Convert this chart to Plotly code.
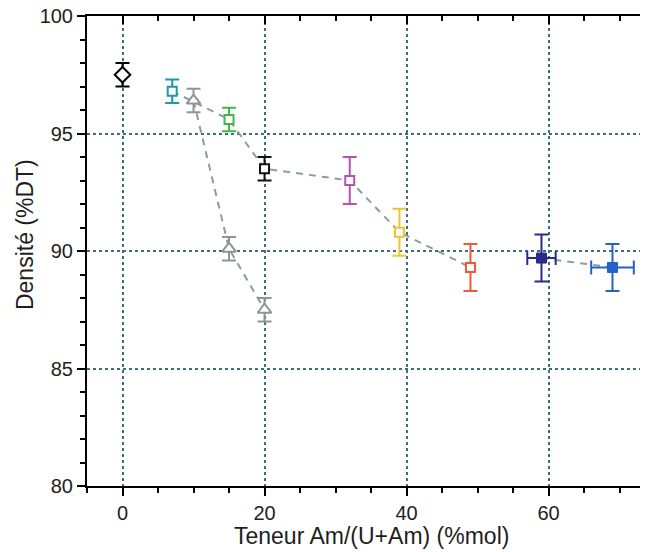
import plotly.graph_objects as go

# ---------------- data ----------------
ref_x = [0]
ref_y = [97.5]
ref_err = [0.5]

sq_x = [7, 15, 20, 32, 39, 49]
sq_y = [96.8, 95.6, 93.5, 93.0, 90.8, 89.3]
sq_err = [0.5, 0.5, 0.5, 1.0, 1.0, 1.0]
sq_colors = ["#1c99a6", "#3dba45", "#111111", "#b352b3", "#f1c232", "#f1573a"]

tri_x = [10, 15, 20]
tri_y = [96.4, 90.1, 87.5]
tri_err = [0.5, 0.5, 0.5]

fill_x = [59, 69]
fill_y = [89.7, 89.3]
fill_yerr = [1.0, 1.0]
fill_xerr = [2.0, 3.0]
fill_colors = ["#2b2a88", "#2562c4"]

x_ticks = [0, 20, 40, 60]
y_ticks = [80, 85, 90, 95, 100]

X_RANGE = [-5, 74]
Y_RANGE = [80, 100]

LINE_COL = "#8d9ca2"
TRI_COL = "#8f9497"
GRID_COL = "#3f6f7c"
FONT = "Liberation Sans, Arial, sans-serif"
TXT = "#1e1e1e"

fig = go.Figure()

# dashed connecting lines
for lx, ly in ((sq_x, sq_y), (fill_x, fill_y), (tri_x, tri_y)):
    fig.add_trace(go.Scatter(x=lx, y=ly, mode="lines",
                             line=dict(color=LINE_COL, width=2, dash="7px,6px"),
                             hoverinfo="skip", showlegend=False))

# reference point (diamond)
fig.add_trace(go.Scatter(
    x=ref_x, y=ref_y, mode="markers",
    marker=dict(symbol="diamond", size=12, color="white",
                line=dict(color="black", width=2)),
    error_y=dict(type="data", array=ref_err, color="black", thickness=2, width=7),
    showlegend=False))

# triangles
fig.add_trace(go.Scatter(
    x=tri_x, y=tri_y, mode="markers",
    marker=dict(symbol="triangle-up", size=12, color="white",
                line=dict(color=TRI_COL, width=2)),
    error_y=dict(type="data", array=tri_err, color=TRI_COL, thickness=2, width=7),
    showlegend=False))

# open squares
for xi, yi, ei, ci in zip(sq_x, sq_y, sq_err, sq_colors):
    fig.add_trace(go.Scatter(
        x=[xi], y=[yi], mode="markers",
        marker=dict(symbol="square", size=9, color="white",
                    line=dict(color=ci, width=2)),
        error_y=dict(type="data", array=[ei], color=ci, thickness=2, width=7),
        showlegend=False))

# filled squares with x and y errors
for xi, yi, eyi, exi, ci in zip(fill_x, fill_y, fill_yerr, fill_xerr, fill_colors):
    fig.add_trace(go.Scatter(
        x=[xi], y=[yi], mode="markers",
        marker=dict(symbol="square", size=10, color=ci,
                    line=dict(color=ci, width=1)),
        error_y=dict(type="data", array=[eyi], color=ci, thickness=2, width=7),
        error_x=dict(type="data", array=[exi], color=ci, thickness=2, width=7),
        showlegend=False))

# empty trace on the mirror axes
fig.add_trace(go.Scatter(x=[], y=[], xaxis="x2", yaxis="y2", showlegend=False))

fig.update_layout(
    width=648, height=552,
    margin=dict(l=79, r=8, t=8, b=74, autoexpand=False),
    paper_bgcolor="white", plot_bgcolor="white",
    font=dict(family=FONT, size=18, color=TXT),
    xaxis=dict(range=X_RANGE, tickvals=x_ticks, ticktext=[str(v) for v in x_ticks],
               showline=True, linecolor="black", linewidth=2, automargin=False,
               ticks="outside", ticklen=8, tickwidth=2, tickcolor="black",
               showgrid=True, gridcolor=GRID_COL, gridwidth=1.5, griddash="dot",
               zeroline=False, tickfont=dict(size=20, color=TXT),
               ticklabeloverflow="allow",
               minor=dict(dtick=5, tick0=0, ticks="outside", ticklen=5,
                          tickwidth=2, tickcolor="black", showgrid=False)),
    yaxis=dict(range=Y_RANGE, tickvals=y_ticks, ticktext=[str(v) for v in y_ticks],
               showline=True, linecolor="black", linewidth=2, automargin=False,
               ticks="outside", ticklen=8, tickwidth=2, tickcolor="black",
               showgrid=True, gridcolor=GRID_COL, gridwidth=1.5, griddash="dot",
               zeroline=False, tickfont=dict(size=20, color=TXT),
               ticklabeloverflow="allow",
               minor=dict(dtick=1, tick0=80, ticks="outside", ticklen=5,
                          tickwidth=2, tickcolor="black", showgrid=False)),
    xaxis2=dict(range=X_RANGE, overlaying="x", side="top", anchor="y2",
                showline=True, linecolor="black", linewidth=2, automargin=False,
                tickvals=x_ticks, showticklabels=False,
                ticks="inside", ticklen=8, tickwidth=2, tickcolor="black",
                showgrid=False, zeroline=False,
                minor=dict(dtick=5, tick0=0, ticks="inside", ticklen=5,
                           tickwidth=2, tickcolor="black", showgrid=False)),
    yaxis2=dict(range=Y_RANGE, overlaying="y", side="right", anchor="x2",
                showline=True, linecolor="black", linewidth=2, automargin=False,
                tickvals=y_ticks, showticklabels=False,
                ticks="inside", ticklen=8, tickwidth=2, tickcolor="black",
                showgrid=False, zeroline=False,
                minor=dict(dtick=1, tick0=80, ticks="inside", ticklen=5,
                           tickwidth=2, tickcolor="black", showgrid=False)),
    annotations=[
        dict(text="Teneur Am/(U+Am) (%mol)", xref="paper", yref="paper",
             x=0.507, y=-0.106, xanchor="center", yanchor="middle", showarrow=False,
             font=dict(size=23, family=FONT, color=TXT)),
        dict(text="Densité (%DT)", xref="paper", yref="paper",
             x=-0.1105, y=0.534, xanchor="center", yanchor="middle", showarrow=False,
             textangle=-90, font=dict(size=23, family=FONT, color=TXT)),
    ],
)

fig.write_html("out.html")
